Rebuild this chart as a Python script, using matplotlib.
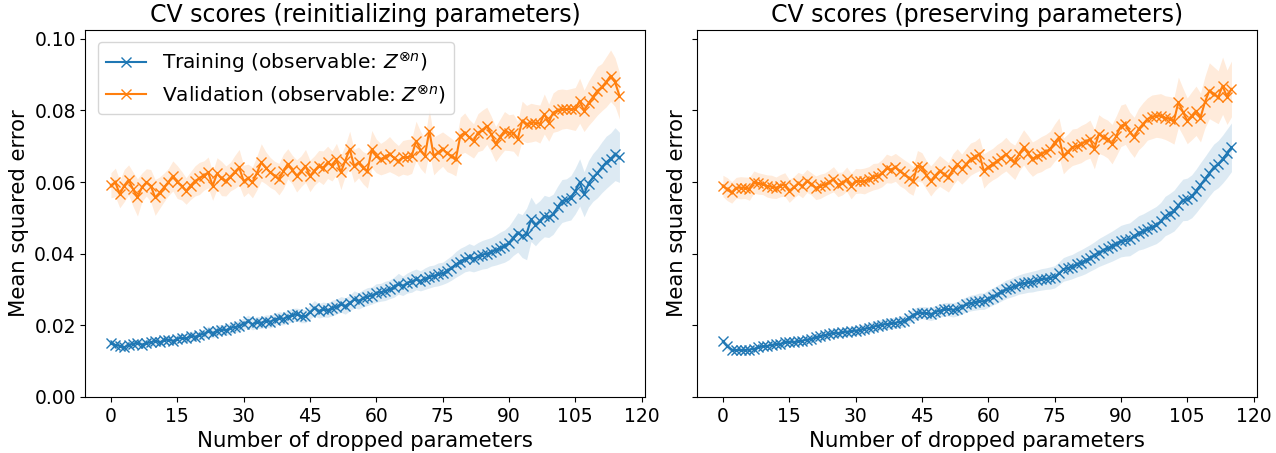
import matplotlib
matplotlib.use("Agg")
import matplotlib.pyplot as plt
import numpy as np

# number of dropped parameters
n_dropped = np.arange(116)

# --- reinitializing parameters ---
train_reinit = [
    0.0150, 0.0145, 0.0142, 0.0138, 0.0145, 0.0148, 0.0150, 0.0146, 0.0150, 0.0152,
    0.0157, 0.0152, 0.0158, 0.0160, 0.0156, 0.0162, 0.0165, 0.0163, 0.0170, 0.0168,
    0.0172, 0.0176, 0.0183, 0.0178, 0.0185, 0.0188, 0.0186, 0.0192, 0.0195, 0.0198,
    0.0204, 0.0211, 0.0203, 0.0208, 0.0207, 0.0212, 0.0210, 0.0216, 0.0220, 0.0218,
    0.0224, 0.0228, 0.0230, 0.0226, 0.0225, 0.0236, 0.0248, 0.0240, 0.0244, 0.0242,
    0.0248, 0.0252, 0.0258, 0.0254, 0.0262, 0.0272, 0.0268, 0.0275, 0.0280, 0.0283,
    0.0290, 0.0292, 0.0296, 0.0300, 0.0306, 0.0316, 0.0310, 0.0318, 0.0322, 0.0328,
    0.0324, 0.0330, 0.0335, 0.0338, 0.0342, 0.0345, 0.0352, 0.0360, 0.0370, 0.0378,
    0.0385, 0.0390, 0.0386, 0.0392, 0.0397, 0.0400, 0.0405, 0.0410, 0.0416, 0.0421,
    0.0430, 0.0445, 0.0459, 0.0449, 0.0455, 0.0496, 0.0480, 0.0492, 0.0505, 0.0502,
    0.0510, 0.0530, 0.0547, 0.0550, 0.0556, 0.0575, 0.0599, 0.0566, 0.0595, 0.0613,
    0.0625, 0.0641, 0.0655, 0.0665, 0.0678, 0.0669,
]
train_reinit_std = [
    0.0010, 0.0011, 0.0010, 0.0011, 0.0012, 0.0011, 0.0010, 0.0012, 0.0011, 0.0012,
    0.0012, 0.0011, 0.0013, 0.0012, 0.0012, 0.0013, 0.0012, 0.0013, 0.0014, 0.0013,
    0.0013, 0.0014, 0.0015, 0.0014, 0.0015, 0.0014, 0.0015, 0.0016, 0.0015, 0.0016,
    0.0016, 0.0017, 0.0016, 0.0017, 0.0016, 0.0017, 0.0018, 0.0017, 0.0018, 0.0017,
    0.0018, 0.0019, 0.0018, 0.0019, 0.0018, 0.0020, 0.0021, 0.0020, 0.0021, 0.0020,
    0.0022, 0.0021, 0.0022, 0.0023, 0.0022, 0.0024, 0.0023, 0.0024, 0.0025, 0.0024,
    0.0026, 0.0025, 0.0027, 0.0026, 0.0028, 0.0029, 0.0027, 0.0028, 0.0030, 0.0029,
    0.0028, 0.0030, 0.0031, 0.0030, 0.0032, 0.0031, 0.0033, 0.0034, 0.0036, 0.0037,
    0.0036, 0.0038, 0.0037, 0.0039, 0.0040, 0.0041, 0.0040, 0.0042, 0.0044, 0.0045,
    0.0047, 0.0050, 0.0055, 0.0060, 0.0072, 0.0062, 0.0058, 0.0056, 0.0058, 0.0057,
    0.0056, 0.0058, 0.0060, 0.0059, 0.0062, 0.0064, 0.0066, 0.0063, 0.0065, 0.0067,
    0.0069, 0.0071, 0.0073, 0.0072, 0.0074, 0.0070,
]
valid_reinit = [
    0.0591, 0.0599, 0.0566, 0.0590, 0.0606, 0.0580, 0.0557, 0.0585, 0.0599, 0.0590,
    0.0557, 0.0570, 0.0585, 0.0600, 0.0617, 0.0600, 0.0590, 0.0575, 0.0590, 0.0603,
    0.0610, 0.0618, 0.0627, 0.0589, 0.0624, 0.0610, 0.0603, 0.0615, 0.0628, 0.0641,
    0.0603, 0.0610, 0.0599, 0.0625, 0.0655, 0.0640, 0.0627, 0.0618, 0.0608, 0.0630,
    0.0651, 0.0635, 0.0617, 0.0630, 0.0645, 0.0617, 0.0632, 0.0645, 0.0640, 0.0655,
    0.0645, 0.0664, 0.0627, 0.0660, 0.0692, 0.0645, 0.0655, 0.0640, 0.0631, 0.0692,
    0.0673, 0.0664, 0.0670, 0.0678, 0.0668, 0.0659, 0.0669, 0.0669, 0.0672, 0.0715,
    0.0690, 0.0673, 0.0743, 0.0673, 0.0683, 0.0692, 0.0680, 0.0673, 0.0664, 0.0729,
    0.0738, 0.0725, 0.0715, 0.0738, 0.0745, 0.0757, 0.0734, 0.0706, 0.0725, 0.0743,
    0.0738, 0.0738, 0.0720, 0.0771, 0.0762, 0.0766, 0.0766, 0.0762, 0.0790, 0.0766,
    0.0794, 0.0800, 0.0804, 0.0804, 0.0804, 0.0804, 0.0827, 0.0799, 0.0820, 0.0837,
    0.0855, 0.0865, 0.0880, 0.0897, 0.0879, 0.0841,
]
valid_reinit_std = [
    0.0035, 0.0040, 0.0038, 0.0045, 0.0042, 0.0048, 0.0052, 0.0040, 0.0038, 0.0045,
    0.0050, 0.0044, 0.0040, 0.0038, 0.0042, 0.0046, 0.0040, 0.0037, 0.0039, 0.0042,
    0.0045, 0.0041, 0.0043, 0.0040, 0.0044, 0.0048, 0.0042, 0.0040, 0.0046, 0.0050,
    0.0044, 0.0040, 0.0043, 0.0047, 0.0052, 0.0045, 0.0042, 0.0040, 0.0044, 0.0048,
    0.0042, 0.0040, 0.0045, 0.0043, 0.0046, 0.0044, 0.0041, 0.0043, 0.0047, 0.0045,
    0.0042, 0.0044, 0.0048, 0.0043, 0.0050, 0.0046, 0.0043, 0.0045, 0.0048, 0.0052,
    0.0047, 0.0044, 0.0046, 0.0049, 0.0045, 0.0043, 0.0047, 0.0050, 0.0048, 0.0055,
    0.0052, 0.0049, 0.0060, 0.0053, 0.0050, 0.0048, 0.0051, 0.0049, 0.0047, 0.0052,
    0.0055, 0.0050, 0.0048, 0.0053, 0.0056, 0.0052, 0.0050, 0.0049, 0.0051, 0.0054,
    0.0050, 0.0052, 0.0049, 0.0055, 0.0052, 0.0054, 0.0051, 0.0053, 0.0056, 0.0052,
    0.0055, 0.0058, 0.0056, 0.0054, 0.0057, 0.0060, 0.0063, 0.0058, 0.0062, 0.0065,
    0.0068, 0.0066, 0.0070, 0.0072, 0.0068, 0.0065,
]

# --- preserving parameters ---
train_preserve = [
    0.0155, 0.0141, 0.0132, 0.0130, 0.0131, 0.0131, 0.0132, 0.0134, 0.0138, 0.0141,
    0.0142, 0.0145, 0.0147, 0.0148, 0.0152, 0.0154, 0.0153, 0.0155, 0.0157, 0.0160,
    0.0162, 0.0166, 0.0169, 0.0172, 0.0176, 0.0178, 0.0178, 0.0180, 0.0182, 0.0183,
    0.0185, 0.0187, 0.0190, 0.0192, 0.0196, 0.0199, 0.0202, 0.0203, 0.0205, 0.0207,
    0.0209, 0.0212, 0.0220, 0.0229, 0.0233, 0.0235, 0.0234, 0.0231, 0.0236, 0.0241,
    0.0244, 0.0245, 0.0243, 0.0246, 0.0252, 0.0258, 0.0262, 0.0264, 0.0267, 0.0267,
    0.0274, 0.0280, 0.0286, 0.0293, 0.0300, 0.0304, 0.0309, 0.0314, 0.0317, 0.0320,
    0.0322, 0.0325, 0.0328, 0.0330, 0.0332, 0.0335, 0.0345, 0.0356, 0.0360, 0.0364,
    0.0370, 0.0375, 0.0381, 0.0388, 0.0395, 0.0403, 0.0409, 0.0415, 0.0421, 0.0428,
    0.0435, 0.0438, 0.0440, 0.0449, 0.0458, 0.0462, 0.0468, 0.0474, 0.0480, 0.0490,
    0.0505, 0.0512, 0.0520, 0.0535, 0.0550, 0.0552, 0.0560, 0.0575, 0.0592, 0.0608,
    0.0625, 0.0641, 0.0650, 0.0664, 0.0680, 0.0697,
]
train_preserve_std = [
    0.0009, 0.0009, 0.0008, 0.0008, 0.0008, 0.0009, 0.0008, 0.0009, 0.0009, 0.0009,
    0.0010, 0.0009, 0.0010, 0.0010, 0.0010, 0.0011, 0.0010, 0.0011, 0.0011, 0.0011,
    0.0012, 0.0011, 0.0012, 0.0012, 0.0012, 0.0013, 0.0012, 0.0013, 0.0013, 0.0013,
    0.0014, 0.0013, 0.0014, 0.0014, 0.0015, 0.0014, 0.0015, 0.0015, 0.0016, 0.0015,
    0.0016, 0.0016, 0.0017, 0.0017, 0.0018, 0.0017, 0.0018, 0.0018, 0.0019, 0.0018,
    0.0019, 0.0019, 0.0020, 0.0020, 0.0021, 0.0021, 0.0022, 0.0022, 0.0023, 0.0023,
    0.0024, 0.0024, 0.0025, 0.0025, 0.0026, 0.0026, 0.0027, 0.0027, 0.0028, 0.0028,
    0.0029, 0.0029, 0.0030, 0.0030, 0.0031, 0.0031, 0.0032, 0.0033, 0.0034, 0.0034,
    0.0035, 0.0036, 0.0037, 0.0037, 0.0038, 0.0039, 0.0040, 0.0041, 0.0042, 0.0043,
    0.0044, 0.0045, 0.0046, 0.0047, 0.0048, 0.0049, 0.0050, 0.0051, 0.0052, 0.0053,
    0.0055, 0.0056, 0.0057, 0.0058, 0.0058, 0.0059, 0.0060, 0.0061, 0.0062, 0.0063,
    0.0064, 0.0065, 0.0066, 0.0067, 0.0068, 0.0068,
]
valid_preserve = [
    0.0589, 0.0580, 0.0571, 0.0584, 0.0584, 0.0584, 0.0581, 0.0600, 0.0596, 0.0594,
    0.0589, 0.0587, 0.0584, 0.0590, 0.0593, 0.0575, 0.0585, 0.0596, 0.0589, 0.0603,
    0.0595, 0.0584, 0.0588, 0.0593, 0.0600, 0.0608, 0.0593, 0.0596, 0.0608, 0.0589,
    0.0603, 0.0603, 0.0603, 0.0608, 0.0615, 0.0617, 0.0625, 0.0638, 0.0635, 0.0641,
    0.0630, 0.0622, 0.0612, 0.0603, 0.0645, 0.0641, 0.0620, 0.0603, 0.0618, 0.0631,
    0.0622, 0.0613, 0.0635, 0.0650, 0.0636, 0.0650, 0.0664, 0.0670, 0.0678, 0.0631,
    0.0642, 0.0650, 0.0659, 0.0668, 0.0678, 0.0665, 0.0655, 0.0678, 0.0697, 0.0680,
    0.0664, 0.0672, 0.0678, 0.0685, 0.0692, 0.0710, 0.0725, 0.0673, 0.0685, 0.0697,
    0.0700, 0.0706, 0.0713, 0.0720, 0.0692, 0.0734, 0.0727, 0.0720, 0.0706, 0.0730,
    0.0757, 0.0762, 0.0740, 0.0725, 0.0748, 0.0762, 0.0776, 0.0782, 0.0785, 0.0785,
    0.0780, 0.0776, 0.0771, 0.0823, 0.0797, 0.0771, 0.0785, 0.0799, 0.0780, 0.0823,
    0.0855, 0.0846, 0.0837, 0.0869, 0.0837, 0.0860,
]
valid_preserve_std = [
    0.0030, 0.0032, 0.0030, 0.0029, 0.0031, 0.0030, 0.0032, 0.0031, 0.0030, 0.0029,
    0.0031, 0.0032, 0.0030, 0.0031, 0.0033, 0.0032, 0.0030, 0.0031, 0.0033, 0.0032,
    0.0031, 0.0033, 0.0034, 0.0032, 0.0033, 0.0035, 0.0034, 0.0032, 0.0034, 0.0036,
    0.0035, 0.0034, 0.0036, 0.0035, 0.0037, 0.0036, 0.0038, 0.0040, 0.0038, 0.0039,
    0.0041, 0.0040, 0.0042, 0.0040, 0.0043, 0.0041, 0.0040, 0.0042, 0.0041, 0.0043,
    0.0042, 0.0041, 0.0044, 0.0043, 0.0042, 0.0044, 0.0045, 0.0044, 0.0046, 0.0048,
    0.0045, 0.0044, 0.0046, 0.0045, 0.0047, 0.0046, 0.0048, 0.0047, 0.0049, 0.0050,
    0.0048, 0.0047, 0.0049, 0.0048, 0.0050, 0.0052, 0.0054, 0.0050, 0.0049, 0.0051,
    0.0050, 0.0052, 0.0051, 0.0053, 0.0055, 0.0054, 0.0052, 0.0053, 0.0055, 0.0056,
    0.0058, 0.0057, 0.0055, 0.0056, 0.0058, 0.0060, 0.0059, 0.0061, 0.0060, 0.0062,
    0.0061, 0.0063, 0.0065, 0.0070, 0.0066, 0.0064, 0.0067, 0.0069, 0.0068, 0.0072,
    0.0078, 0.0076, 0.0074, 0.0080, 0.0076, 0.0078,
]

titles = ["CV scores (reinitializing parameters)", "CV scores (preserving parameters)"]
runs = [
    (train_reinit, train_reinit_std, valid_reinit, valid_reinit_std),
    (train_preserve, train_preserve_std, valid_preserve, valid_preserve_std),
]

fig, axes = plt.subplots(1, 2, figsize=(12.76, 4.53), dpi=100, sharey=True)
fig.subplots_adjust(left=0.067, right=0.985, bottom=0.124, top=0.934, wspace=0.094)

for ax, title, (tr, tr_s, va, va_s) in zip(axes, titles, runs):
    tr, tr_s, va, va_s = map(np.array, (tr, tr_s, va, va_s))
    ax.plot(n_dropped, tr, marker="x", color="C0", lw=1.5, ms=7.5,
            label=r"Training (observable: $Z^{\otimes n}$)")
    ax.fill_between(n_dropped, tr - tr_s, tr + tr_s, color="C0", alpha=0.15, lw=0)
    ax.plot(n_dropped, va, marker="x", color="C1", lw=1.5, ms=7.5,
            label=r"Validation (observable: $Z^{\otimes n}$)")
    ax.fill_between(n_dropped, va - va_s, va + va_s, color="C1", alpha=0.15, lw=0)
    ax.set_title(title, fontsize=17)
    ax.set_xlabel("Number of dropped parameters", fontsize=15.3)
    ax.set_ylabel("Mean squared error", fontsize=15.3)
    ax.set_xticks(np.arange(0, 121, 15))
    ax.tick_params(labelsize=13.5)

axes[0].set_ylim(0, 0.1025)
axes[0].set_yticks([0.0, 0.02, 0.04, 0.06, 0.08, 0.10])
axes[0].yaxis.set_major_formatter(matplotlib.ticker.FormatStrFormatter("%.2f"))
axes[0].legend(loc="upper left", fontsize=14.5, borderaxespad=0.6, labelspacing=0.4)

fig.savefig("out.png", dpi=100)
